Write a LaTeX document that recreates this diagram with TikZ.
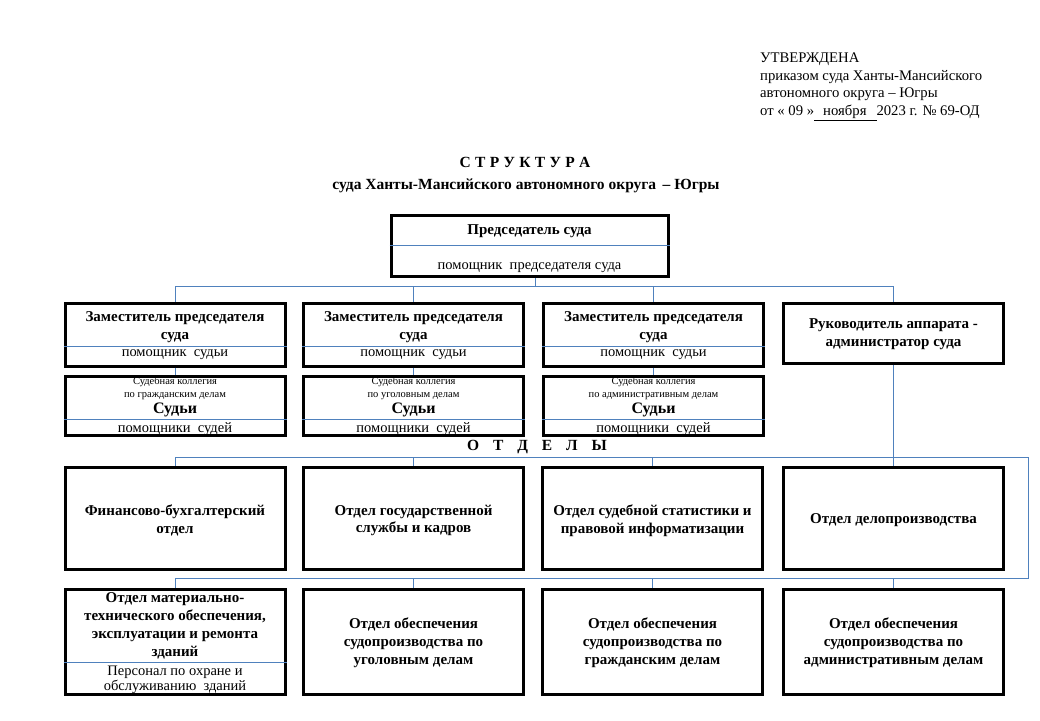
\documentclass[tikz,border=0pt]{standalone}
\usepackage{fontspec}
\setmainfont{Liberation Serif}
\definecolor{lb}{RGB}{79,129,189}
\begin{document}
\begin{tikzpicture}[x=1pt,y=-1pt,
  box/.style={draw=black,line width=3pt,inner sep=0pt,rectangle,minimum width=220pt},
  conn/.style={draw=lb,line width=0.9pt},
  divl/.style={draw=lb,line width=0.8pt},
  btxt/.style={font=\fontsize{15}{17.8}\selectfont\bfseries,align=center,inner sep=0pt,yshift=-1.5pt},
  rtxt/.style={font=\fontsize{14.5}{15.5}\selectfont,align=center,inner sep=0pt},
  stxt/.style={font=\fontsize{10.5}{13}\selectfont,align=center,inner sep=0pt},
  jtxt/.style={font=\fontsize{16}{16}\selectfont\bfseries,inner sep=0pt},
  ttxt/.style={font=\fontsize{15.5}{16}\selectfont\bfseries,inner sep=0pt}
]
\useasboundingbox[fill=white] (0,0) rectangle (1040,720);

% header
\node[font=\fontsize{14.7}{17.7}\selectfont,align=left,anchor=north west,inner sep=0pt] (hdr) at (760,52.5)
 {УТВЕРЖДЕНА\\приказом суда Ханты-Мансийского\\автономного округа – Югры\\от « 09 »\underline{\hspace{9pt}ноября\hspace{10pt}}2023 г. № 69-ОД};
\node[ttxt] (t1) at (525,162) {С\hspace{0.28em}Т\hspace{0.28em}Р\hspace{0.28em}У\hspace{0.28em}К\hspace{0.28em}Т\hspace{0.28em}У\hspace{0.28em}Р\hspace{0.28em}А};
\node[ttxt] (t2) at (526,186) {суда Ханты-Мансийского автономного округа \,– Югры};

% chairman
\node[box,minimum width=277pt,minimum height=61pt] (ch) at (529.5,246) {};
\node[btxt] (cht) at (529.5,230) {Председатель суда};
\node[rtxt] (chs) at (529.5,268) {помощник\ \ председателя суда};
\draw[divl] (ch.west |- 0,245) -- (ch.east |- 0,245);

% row 1
\foreach \n/\x in {z1/175,z2/413.5,z3/653.5}{
  \node[box,minimum height=63pt] (\n) at (\x,334.5) {};
  \node[btxt] (\n t) at (\x,326) {Заместитель председателя\\суда};
  \node[rtxt] (\n s) at (\x,354.5) {помощник\ \ судьи};
  \draw[divl] (\n.west |- 0,346) -- (\n.east |- 0,346);
}
\node[box,minimum height=60pt] (ra) at (893.5,333) {};
\node[btxt] (rat) at (893.5,333) {Руководитель аппарата -\\администратор суда};

% row 2
\foreach \n/\x/\w in {k1/175/по гражданским делам,k2/413.5/по уголовным делам,k3/653.5/по административным делам}{
  \node[box,minimum height=59pt] (\n) at (\x,405.5) {};
  \node[stxt] (\n a) at (\x,388.5) {Судебная коллегия\\\w};
  \node[jtxt] (\n j) at (\x,410) {Судьи};
  \node[rtxt] (\n s) at (\x,429) {помощники\ \ судей};
  \draw[divl] (\n.west |- 0,419) -- (\n.east |- 0,419);
}

\node[ttxt] (otd) at (537,447) {О\hspace{0.9em}Т\hspace{0.9em}Д\hspace{0.9em}Е\hspace{0.9em}Л\hspace{0.9em}Ы};

% row 3
\node[box,minimum height=102pt] (o1) at (175,518) {};
\node[btxt] at (175,519) {Финансово-бухгалтерский\\отдел};
\node[box,minimum height=102pt] (o2) at (413.5,518) {};
\node[btxt] at (413.5,519) {Отдел государственной\\службы и кадров};
\node[box,minimum height=102pt] (o3) at (652.5,518) {};
\node[btxt] at (652.5,519) {Отдел судебной статистики и\\правовой информатизации};
\node[box,minimum height=102pt] (o4) at (893.5,518) {};
\node[btxt] at (893.5,519) {Отдел делопроизводства};

% row 4
\node[box,minimum height=105pt] (p1) at (175,641.5) {};
\node[btxt] (p1t) at (175,624.5) {Отдел материально-\\технического обеспечения,\\эксплуатации и ремонта\\зданий};
\node[rtxt] (p1s) at (175,680) {Персонал по охране и\\обслуживанию\ \ зданий};
\draw[divl] (p1.west |- 0,662) -- (p1.east |- 0,662);
\node[box,minimum height=105pt] (p2) at (413.5,641.5) {};
\node[btxt] at (413.5,641.5) {Отдел обеспечения\\судопроизводства по\\уголовным делам};
\node[box,minimum height=105pt] (p3) at (652.5,641.5) {};
\node[btxt] at (652.5,641.5) {Отдел обеспечения\\судопроизводства по\\гражданским делам};
\node[box,minimum height=105pt] (p4) at (893.5,641.5) {};
\node[btxt] at (893.5,641.5) {Отдел обеспечения\\судопроизводства по\\административным делам};

% connectors
\coordinate (chb) at ([xshift=6pt]ch.south);
\draw[conn] (chb) -- (chb |- 0,286);
\draw[conn] (z1.north) -- (z1.north |- 0,286) -- (ra.north |- 0,286) -- (ra.north);
\draw[conn] (z2.north) -- (z2.north |- 0,286);
\draw[conn] (z3.north) -- (z3.north |- 0,286);
\draw[conn] (z1.south) -- (k1.north);
\draw[conn] (z2.south) -- (k2.north);
\draw[conn] (z3.south) -- (k3.north);
\coordinate (bR1) at (1028,457);
\coordinate (bR2) at (1028,578);
\draw[conn] (o1.north) -- (o1.north |- bR1) -- (bR1) -- (bR2) -- (p1.north |- bR2) -- (p1.north);
\draw[conn] (o2.north) -- (o2.north |- bR1);
\draw[conn] (o3.north) -- (o3.north |- bR1);
\draw[conn] (ra.south) -- (o4.north);
\draw[conn] (p2.north) -- (p2.north |- bR2);
\draw[conn] (p3.north) -- (p3.north |- bR2);
\draw[conn] (p4.north) -- (p4.north |- bR2);
\end{tikzpicture}
\end{document}
